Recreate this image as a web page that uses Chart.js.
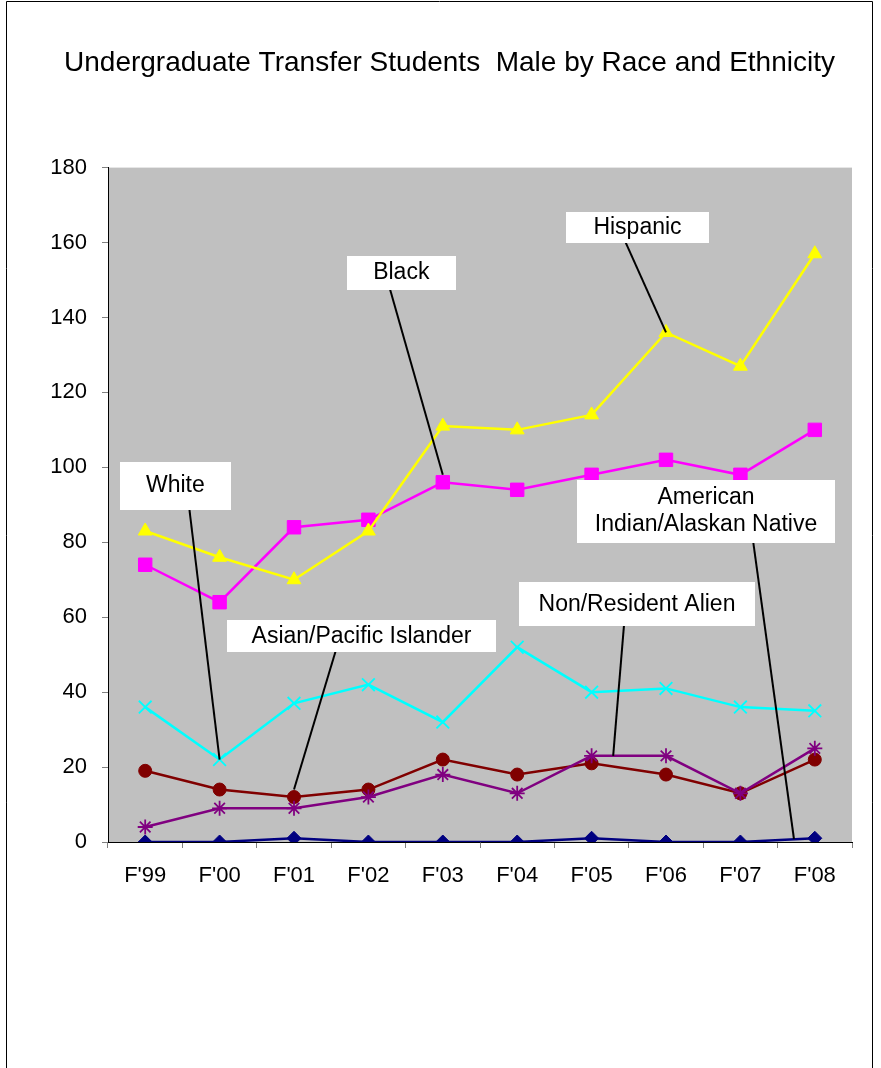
<!DOCTYPE html>
<html>
<head>
<meta charset="utf-8">
<title>Undergraduate Transfer Students Male by Race and Ethnicity</title>
<script src="https://cdn.jsdelivr.net/npm/chart.js@4"></script>
<style>
  body { margin: 0; background: #fff; }
  #wrap { width: 881px; height: 1068px; }
</style>
</head>
<body>
<div id="wrap"><canvas id="transferChart" width="881" height="1068"></canvas></div>
<script>
const categories = ["F'99", "F'00", "F'01", "F'02", "F'03", "F'04", "F'05", "F'06", "F'07", "F'08"];

const hispanic = [83, 76, 70, 83, 111, 110, 114, 136, 127, 157];
const black = [74, 64, 84, 86, 96, 94, 98, 102, 98, 110];
const white = [36, 22, 37, 42, 32, 52, 40, 41, 36, 35];
const asianPacific = [19, 14, 12, 14, 22, 18, 21, 18, 13, 22];
const nonResident = [4, 9, 9, 12, 18, 13, 23, 23, 13, 25];
const amIndian = [0, 0, 1, 0, 0, 0, 1, 0, 0, 1];

const yMin = 0;
const yMax = 180;
const yStep = 20;

// callout boxes: centre and leader ends given in (category index, value)
const callouts = [
	{ lines: ['Hispanic'], box: [6.617, 164.1], w: 143, h: 31, from: [6.436, 161], to: [7, 136] },
	{ lines: ['Black'], box: [3.442, 151.9], w: 109, h: 34, from: [3.284, 148], to: [4, 98] },
	{ lines: ['White'], box: [0.405, 95.1], w: 111, h: 48, from: [0.593, 89], to: [1, 22] },
	{ lines: ['Asian/Pacific Islander'], box: [2.907, 54.9], w: 269, h: 32, from: [2.56, 51], to: [2, 14] },
	{ lines: ['Non/Resident Alien'], box: [6.61, 63.4], w: 236, h: 44, from: [6.436, 58], to: [6.29, 23] },
	{ lines: ['American', 'Indian/Alaskan Native'], box: [7.538, 88.3], w: 258, h: 63, from: [8.173, 80], to: [8.72, 0.8] },
];

const fontFamily = '"Liberation Sans", Arial, sans-serif';

const plotBackground = {
	id: 'plotBackground',
	beforeDraw(chart) {
		const { ctx, chartArea } = chart;
		ctx.save();
		ctx.fillStyle = '#ffffff';
		ctx.fillRect(0, 0, chart.width, chart.height);
		ctx.strokeStyle = '#000000';
		ctx.lineWidth = 1;
		ctx.beginPath();
		ctx.moveTo(6.5, chart.height + 2);
		ctx.lineTo(6.5, 1.5);
		ctx.lineTo(872.5, 1.5);
		ctx.lineTo(872.5, chart.height + 2);
		ctx.stroke();
		ctx.fillStyle = '#C0C0C0';
		ctx.fillRect(chartArea.left, chartArea.top, chartArea.right - chartArea.left, chartArea.bottom - chartArea.top);
		ctx.restore();
	}
};

const calloutLabels = {
	id: 'calloutLabels',
	afterDatasetsDraw(chart) {
		const { ctx } = chart;
		const xs = chart.scales.x;
		const ys = chart.scales.y;
		ctx.save();
		callouts.forEach(c => {
			ctx.strokeStyle = '#000000';
			ctx.lineWidth = 2;
			ctx.beginPath();
			ctx.moveTo(xs.getPixelForValue(c.from[0]), ys.getPixelForValue(c.from[1]));
			ctx.lineTo(xs.getPixelForValue(c.to[0]), ys.getPixelForValue(c.to[1]));
			ctx.stroke();

			const cx = xs.getPixelForValue(c.box[0]);
			const cy = ys.getPixelForValue(c.box[1]);
			ctx.fillStyle = '#ffffff';
			ctx.fillRect(Math.round(cx - c.w / 2), Math.round(cy - c.h / 2), c.w, c.h);

			ctx.fillStyle = '#000000';
			ctx.font = '23px ' + fontFamily;
			ctx.textAlign = 'center';
			ctx.textBaseline = 'middle';
			const lh = 27;
			const top = cy - (c.lines.length - 1) * lh / 2;
			c.lines.forEach((t, i) => ctx.fillText(t, cx, top + i * lh));
		});
		ctx.restore();
	}
};

const makeSeries = (label, data, color, style, radius, order) => ({
	label: label,
	data: data,
	borderColor: color,
	backgroundColor: color,
	borderWidth: 2.5,
	pointStyle: style,
	pointRadius: radius,
	pointBorderColor: color,
	pointBackgroundColor: color,
	pointBorderWidth: (style === 'crossRot' || style === 'star') ? 1.8 : 1,
	tension: 0,
	order: order,
});

const chartData = {
	type: 'line',
	data: {
		labels: categories,
		datasets: [
			makeSeries('American Indian/Alaskan Native', amIndian, '#000080', 'rectRot', 7, 6),
			makeSeries('Asian/Pacific Islander', asianPacific, '#800000', 'circle', 6.5, 5),
			makeSeries('Non/Resident Alien', nonResident, '#800080', 'star', 7.5, 4),
			makeSeries('White', white, '#00FFFF', 'crossRot', 9, 3),
			makeSeries('Black', black, '#FF00FF', 'rect', 9.5, 2),
			makeSeries('Hispanic', hispanic, '#FFFF00', 'triangle', 8, 1),
		],
	},
	options: {
		responsive: false,
		animation: false,
		layout: {
			// left/right padding keep the title centred where the original has it
			padding: { left: 47, right: 29, top: 0, bottom: 0 },
		},
		plugins: {
			legend: { display: false },
			tooltip: { enabled: false },
			title: {
				display: true,
				text: 'Undergraduate Transfer Students  Male by Race and Ethnicity',
				color: '#000000',
				font: { family: fontFamily, size: 28, weight: 'normal' },
				padding: { top: 46, bottom: 88 },
			},
		},
		scales: {
			x: {
				offset: true,
				afterFit: (scale) => { scale.height = 226; },
				grid: {
					offset: true,
					drawOnChartArea: false,
					color: '#808080',
					tickLength: 6,
				},
				border: { color: '#000000', width: 1 },
				ticks: {
					color: '#000000',
					font: { family: fontFamily, size: 22 },
					padding: 15,
					maxRotation: 0,
				},
			},
			y: {
				min: yMin,
				max: yMax,
				afterFit: (scale) => { scale.width = 61; },
				grid: {
					drawOnChartArea: false,
					color: '#808080',
					tickLength: 6,
				},
				border: { color: '#000000', width: 1 },
				ticks: {
					stepSize: yStep,
					color: '#000000',
					font: { family: fontFamily, size: 22 },
					padding: 15,
				},
			},
		},
	},
	plugins: [plotBackground, calloutLabels],
};

(() => {
	new Chart(document.getElementById('transferChart'), chartData);
})();
</script>
</body>
</html>
